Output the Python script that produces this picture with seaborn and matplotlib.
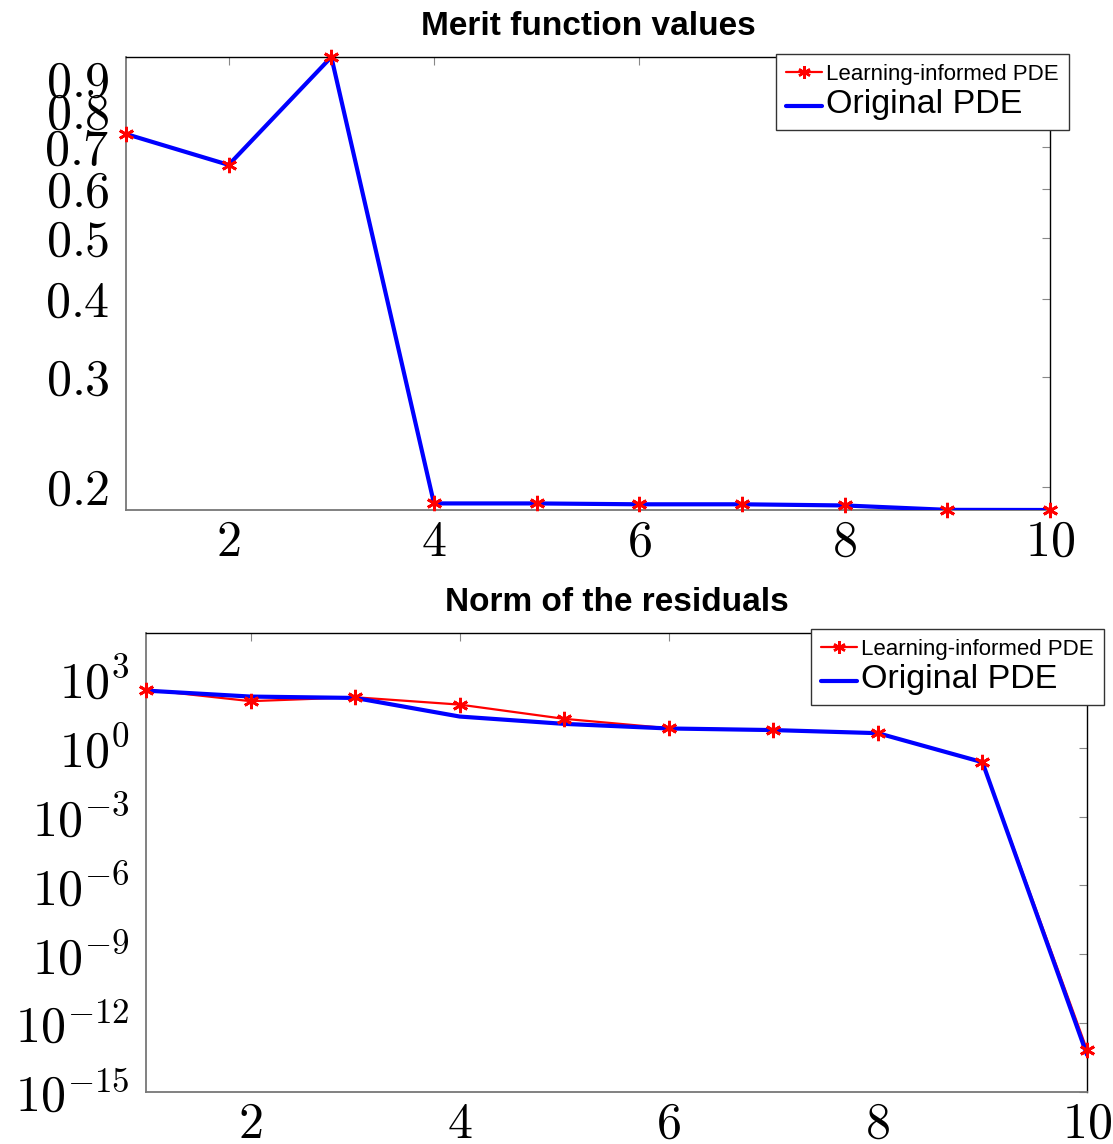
import numpy as np
import pandas as pd
import seaborn as sns
import matplotlib
matplotlib.use("Agg")
import matplotlib.pyplot as plt
from matplotlib.lines import Line2D
from matplotlib.ticker import FixedLocator, FixedFormatter, NullLocator

# ---------------- data ----------------
iterations = [1, 2, 3, 4, 5, 6, 7, 8, 9, 10]

merit_learning = [0.734, 0.655, 0.975, 0.188, 0.188, 0.1874, 0.1874, 0.1866, 0.1836, 0.1835]
merit_original = [0.734, 0.655, 0.975, 0.188, 0.188, 0.1874, 0.1874, 0.1866, 0.1836, 0.1835]

resid_learning_exp = [2.53, 2.03, 2.20, 1.88, 1.26, 0.85, 0.78, 0.635, -0.63, -13.16]
resid_original_exp = [2.49, 2.23, 2.17, 1.36, 1.04, 0.84, 0.77, 0.635, -0.63, -13.38]
resid_learning = [10.0 ** e for e in resid_learning_exp]
resid_original = [10.0 ** e for e in resid_original_exp]

merit_yticks = [0.2, 0.3, 0.4, 0.5, 0.6, 0.7, 0.8, 0.9]
merit_yticklabels = ["$0.2$", "$0.3$", "$0.4$", "$0.5$", "$0.6$", "$0.7$", "$0.8$", "$0.9$"]
resid_yticks = [1e-15, 1e-12, 1e-9, 1e-6, 1e-3, 1e0, 1e3]
resid_yticklabels = ["$10^{-15}$", "$10^{-12}$", "$10^{-9}$", "$10^{-6}$", "$10^{-3}$", "$10^{0}$", "$10^{3}$"]
xticks = [2, 4, 6, 8, 10]
xticklabels = ["$2$", "$4$", "$6$", "$8$", "$10$"]

titles = ["Merit function values", "Norm of the residuals"]
label_learning = "Learning-informed PDE"
label_original = "Original PDE"

# ---------------- style ----------------
sns.set_theme(style="white")
plt.rcParams["font.family"] = ["Liberation Sans", "DejaVu Sans"]
plt.rcParams["mathtext.fontset"] = "cm"
plt.rcParams["text.color"] = "black"
plt.rcParams["axes.titlecolor"] = "black"
plt.rcParams["xtick.color"] = "black"
plt.rcParams["ytick.color"] = "black"

fig = plt.figure(figsize=(11.13, 11.44), dpi=100)
ax1 = fig.add_axes([126 / 1113, 1 - 510 / 1144, 924 / 1113, 453 / 1144])
ax2 = fig.add_axes([146 / 1113, 1 - 1092 / 1144, 941 / 1113, 459 / 1144])

RED = "#ff0000"
BLUE = "#0000ff"
STAR = (6, 2, 0)


def draw(ax, y_learn, y_orig):
    df_l = pd.DataFrame({"it": iterations, "v": y_learn})
    df_o = pd.DataFrame({"it": iterations, "v": y_orig})
    sns.lineplot(data=df_l, x="it", y="v", ax=ax, color=RED, lw=1.6, zorder=2,
                 estimator=None, legend=False)
    sns.lineplot(data=df_o, x="it", y="v", ax=ax, color=BLUE, lw=3.0, zorder=3,
                 estimator=None, legend=False)
    sns.lineplot(data=df_l, x="it", y="v", ax=ax, color=RED, lw=0, marker=STAR,
                 markersize=11, markeredgewidth=2.0, markeredgecolor=RED, zorder=4,
                 estimator=None, legend=False, clip_on=False)


def style_axes(ax, title):
    ax.set_xlim(1, 10)
    ax.set_xlabel("")
    ax.set_ylabel("")
    ax.xaxis.set_major_locator(FixedLocator(xticks))
    ax.xaxis.set_major_formatter(FixedFormatter(xticklabels))
    ax.xaxis.set_minor_locator(NullLocator())
    ax.yaxis.set_minor_locator(NullLocator())
    ax.tick_params(axis="both", which="major", direction="in", length=6, width=0.8,
                   color="#888888", labelsize=36, top=True, right=True,
                   labelcolor="black")
    ax.tick_params(axis="x", pad=7)
    ax.tick_params(axis="y", pad=12)
    for side in ["top", "right"]:
        ax.spines[side].set_color("black")
        ax.spines[side].set_linewidth(1.0)
    for side in ["left", "bottom"]:
        ax.spines[side].set_color("#777777")
        ax.spines[side].set_linewidth(1.3)
    ax.set_title(title, fontsize=24, fontweight="bold", pad=16, color="black")


draw(ax1, merit_learning, merit_original)
ax1.set_yscale("log")
ax1.set_ylim(min(merit_learning + merit_original), max(merit_learning + merit_original))
style_axes(ax1, titles[0])
ax1.yaxis.set_major_locator(FixedLocator(merit_yticks))
ax1.yaxis.set_major_formatter(FixedFormatter(merit_yticklabels))
ax1.yaxis.set_minor_locator(NullLocator())

draw(ax2, resid_learning, resid_original)
ax2.set_yscale("log")
ax2.set_ylim(1e-15, 1e5)
style_axes(ax2, titles[1])
ax2.yaxis.set_major_locator(FixedLocator(resid_yticks))
ax2.yaxis.set_major_formatter(FixedFormatter(resid_yticklabels))
ax2.yaxis.set_minor_locator(NullLocator())


def add_legend(ax, anchor):
    handles = [
        Line2D([], [], color=RED, lw=1.6, marker=STAR, markersize=9, markeredgewidth=1.8),
        Line2D([], [], color=BLUE, lw=3.0),
    ]
    leg = ax.legend(handles, [label_learning, label_original], loc="upper right",
                    bbox_to_anchor=anchor, bbox_transform=fig.transFigure,
                    fontsize=16, frameon=True, fancybox=False, framealpha=1,
                    edgecolor="#333333", borderpad=0.45, handlelength=1.6,
                    handletextpad=0.2, labelspacing=0.2, borderaxespad=0)
    leg.get_frame().set_linewidth(1.0)
    texts = leg.get_texts()
    texts[0].set_fontsize(16)
    texts[1].set_fontsize(24.5)
    for t in texts:
        t.set_color("black")
    leg.set_zorder(10)
    return leg


add_legend(ax1, (1069 / 1113, 1 - 54 / 1144))
add_legend(ax2, (1104 / 1113, 1 - 629 / 1144))

fig.savefig("out.png", dpi=100)
